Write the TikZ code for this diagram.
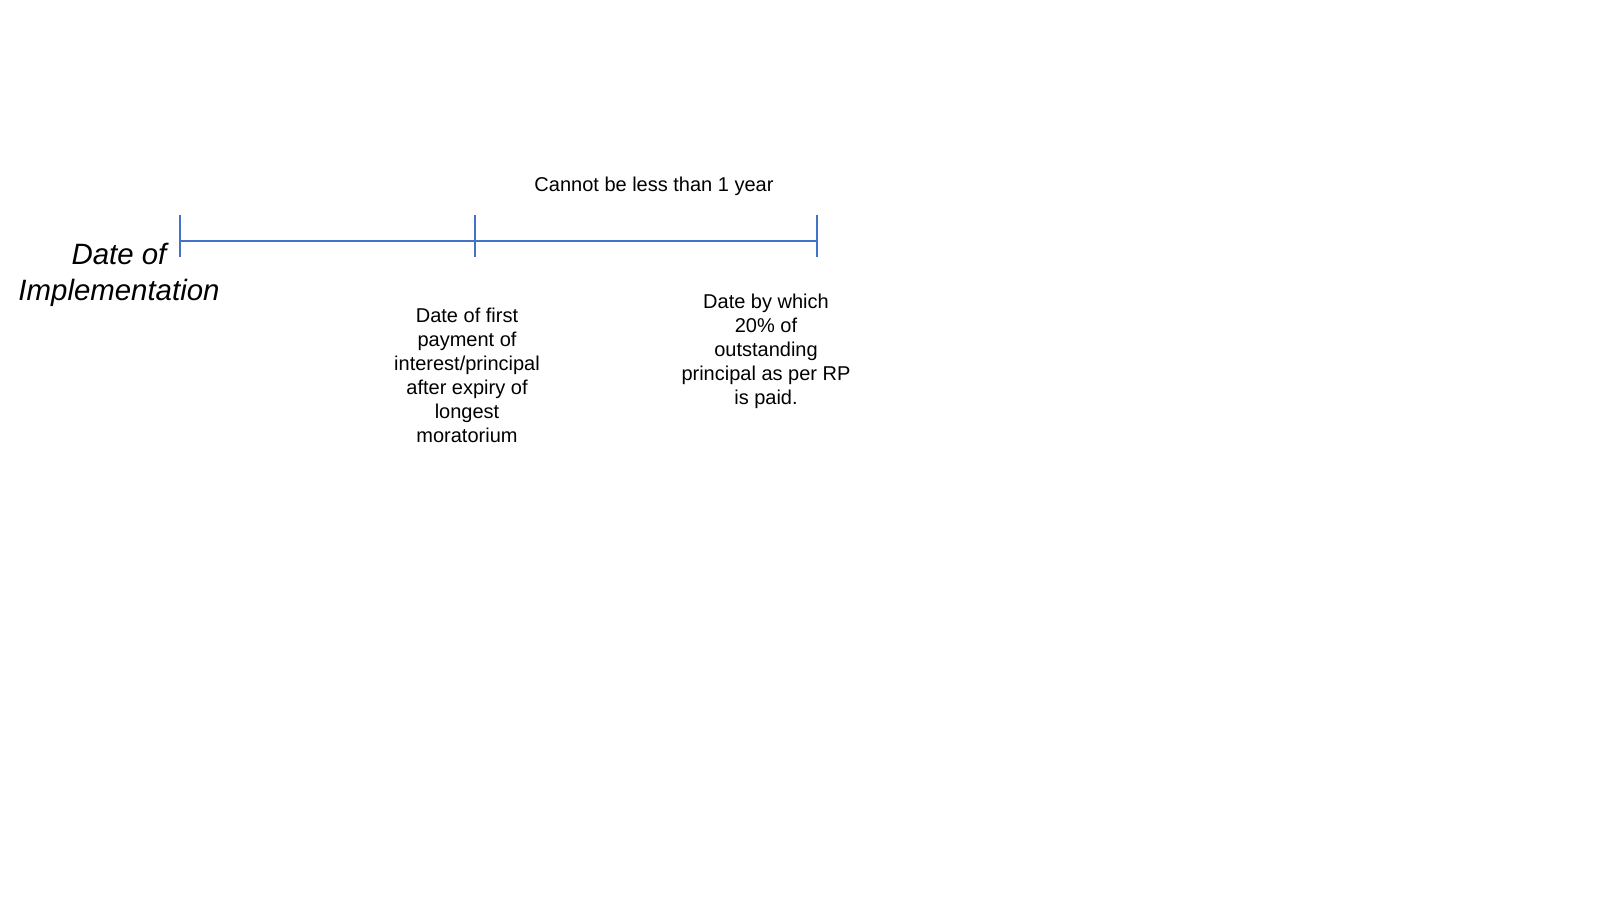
\documentclass[tikz,border=0pt]{standalone}
\usepackage{fontspec}
\setmainfont{Liberation Sans}
\usepackage{xcolor}
\definecolor{lineblue}{RGB}{68,114,196}

\tikzset{
  timeline/.style={draw=lineblue, line width=0.9pt},
  datelabel/.style={align=center, inner sep=0pt, font=\fontsize{10}{12}\selectfont},
  startlabel/.style={align=center, inner sep=0pt, font=\fontsize{14.7}{18}\selectfont\itshape},
}

\begin{document}
\begin{tikzpicture}[x=0.5pt,y=-0.5pt]
        \useasboundingbox (0,0) rectangle (1600,900);
        \coordinate (impl) at (180,241);
        \coordinate (firstpay) at (475,241);
        \coordinate (paid) at (817,241);
        % timeline and its ticks
        \draw[timeline] (impl) -- (firstpay) -- (paid);
        \draw[timeline] (impl) ++(0,-26) -- ++(0,42);
        \draw[timeline] (firstpay) ++(0,-26) -- ++(0,42);
        \draw[timeline] (paid) ++(0,-26) -- ++(0,42);
        % labels
        \node[startlabel] (impllbl) at (119,275) {Date of\\Implementation};
        \node[datelabel] (cannot) at (654,186) {Cannot be less than 1 year};
        \node[datelabel] (firstlbl) at (467,375) {Date of first\\payment of\\interest/principal\\after expiry of\\longest\\moratorium};
        \node[datelabel] (paidlbl) at (766,351) {Date by which\\20\% of\\outstanding\\principal as per RP\\is paid.};
\end{tikzpicture}
\end{document}
